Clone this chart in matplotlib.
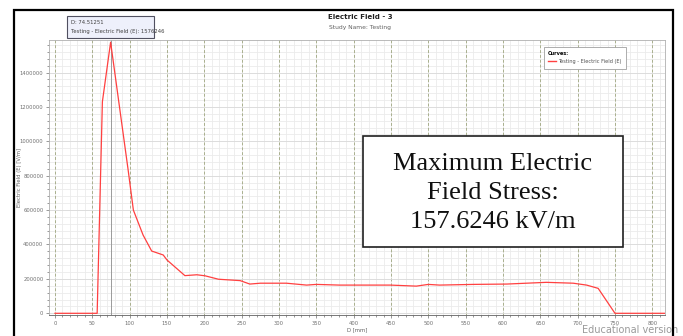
import matplotlib.pyplot as plt
from matplotlib.patches import Rectangle
import numpy as np

# curve: D [mm] vs Electric Field (E) [V/m]
d_mm = [0, 56.5, 63.5, 74.51251, 98, 105, 118, 129.5, 145, 150, 174, 190,
        201, 219, 248, 261, 275, 310, 337, 350, 381, 449, 484, 500, 515,
        560, 605, 658, 694, 712, 727.5, 750, 817]
e_field = [0, 0, 1230000, 1576246, 833000, 600000, 455000, 362000, 339000,
           310000, 219000, 224000, 218000, 198000, 190000, 170000, 175000,
           175000, 164000, 168000, 164000, 164000, 158000, 168000, 164000,
           168000, 170000, 180000, 175000, 164000, 145000, 0, 0]

peak_d = 74.51251
peak_e = 1576246

x_ticks = np.arange(0, 801, 50)
y_ticks = np.arange(0, 1400001, 200000)

fig = plt.figure(figsize=(6.83, 3.36), dpi=100)
W, H = 683, 336

def fx(px):
    return px / W

def fy(py):
    return 1 - py / H

ax = fig.add_axes([fx(49), fy(315), (665 - 49) / W, (315 - 40) / H])

# grid
for x in np.arange(0, 820, 10):
    ax.axvline(x, color='#ebebeb', lw=0.6, zorder=0)
for y in np.arange(0, 1600000, 40000):
    ax.axhline(y, color='#ebebeb', lw=0.6, zorder=0)
for x in x_ticks:
    ax.axvline(x, color='#a9b08e', lw=0.7, ls=(0, (3, 2)), zorder=1)
for y in y_ticks:
    ax.axhline(y, color='#dadada', lw=0.6, zorder=1)

# cursor line at the peak
ax.axvline(peak_d, color='#9a9a9a', lw=0.7, zorder=2)

line, = ax.plot(d_mm, e_field, color='#ff4040', lw=0.9, zorder=3,
                label='Testing - Electric Field (E)')

ax.set_xlim(-8, 817)
ax.set_ylim(-9900, 1589000)
ax.set_xticks(x_ticks)
ax.set_yticks(y_ticks)
ax.set_xticks(np.arange(0, 820, 10), minor=True)
ax.set_yticks(np.arange(0, 1600000, 40000), minor=True)
ax.tick_params(axis='both', which='major', labelsize=3.8, colors='#707070',
               length=2, width=0.5, pad=2)
ax.tick_params(axis='both', which='minor', colors='#707070', length=1.2,
               width=0.5)
ax.set_xticklabels([str(v) for v in x_ticks])
ax.set_yticklabels([str(v) for v in y_ticks])
for s in ax.spines.values():
    s.set_color('#b0b0b0')
    s.set_linewidth(0.6)
ax.spines['bottom'].set_color('#606060')

ax.set_xlabel('D [mm]', fontsize=3.8, color='#606060', labelpad=1)
ax.set_ylabel('Electric Field (E) [V/m]', fontsize=3.8, color='#606060')
ax.yaxis.set_label_coords((22 - 49) / 616, 0.5)

# titles
fig.text(fx(360), fy(17), 'Electric Field - 3', ha='center', va='center',
         fontsize=5, fontweight='bold', color='#202020')
fig.text(fx(360), fy(28), 'Study Name: Testing', ha='center', va='center',
         fontsize=4.3, color='#606060')

# tooltip
fig.patches.append(Rectangle((fx(67), fy(38)), (154 - 67) / W, (38 - 16) / H,
                             transform=fig.transFigure, facecolor='#eef0fb',
                             edgecolor='#505060', lw=0.8, zorder=5))
fig.text(fx(71), fy(23), 'D: ' + str(peak_d), fontsize=3.8, color='#404040',
         va='center', zorder=6)
fig.text(fx(71), fy(31), 'Testing - Electric Field (E): ' + str(peak_e),
         fontsize=3.8, color='#404040', va='center', zorder=6)

# legend
leg = ax.legend(handles=[line], title='Curves:', loc='upper left',
                bbox_to_anchor=(fx(541), fy(44)),
                bbox_transform=fig.transFigure, fontsize=3.6,
                title_fontproperties={'size': 3.6, 'weight': 'bold'},
                alignment='left', fancybox=False, edgecolor='#a0a0a0',
                framealpha=1, handlelength=1.6, borderpad=0.9,
                labelspacing=0.6, handletextpad=0.5)
leg.get_frame().set_linewidth(0.6)
leg.set_zorder(6)
for t in leg.get_texts():
    t.set_color('#505050')
for h in leg.legend_handles:
    h.set_linewidth(1.0)

# annotation box
fig.patches.append(Rectangle((fx(363), fy(247)), (623 - 363) / W,
                             (247 - 136) / H, transform=fig.transFigure,
                             facecolor='white', edgecolor='#202020', lw=1.2,
                             zorder=7))
fig.text(fx(493), fy(193),
         'Maximum Electric\nField Stress:\n157.6246 kV/m',
         ha='center', va='center', fontsize=19, family='Liberation Serif',
         linespacing=1.4, color='#101010', zorder=8)

# watermark
fig.text(fx(582), fy(330), 'Educational version', fontsize=7,
         color='#9a9a9a', va='center', ha='left', zorder=8)

# outer frame
fig.patches.append(Rectangle((fx(14), fy(340)), (673 - 14) / W,
                             (340 - 10) / H, transform=fig.transFigure,
                             facecolor='none', edgecolor='black', lw=1.6,
                             zorder=9))

fig.savefig('out.png', dpi=100)
